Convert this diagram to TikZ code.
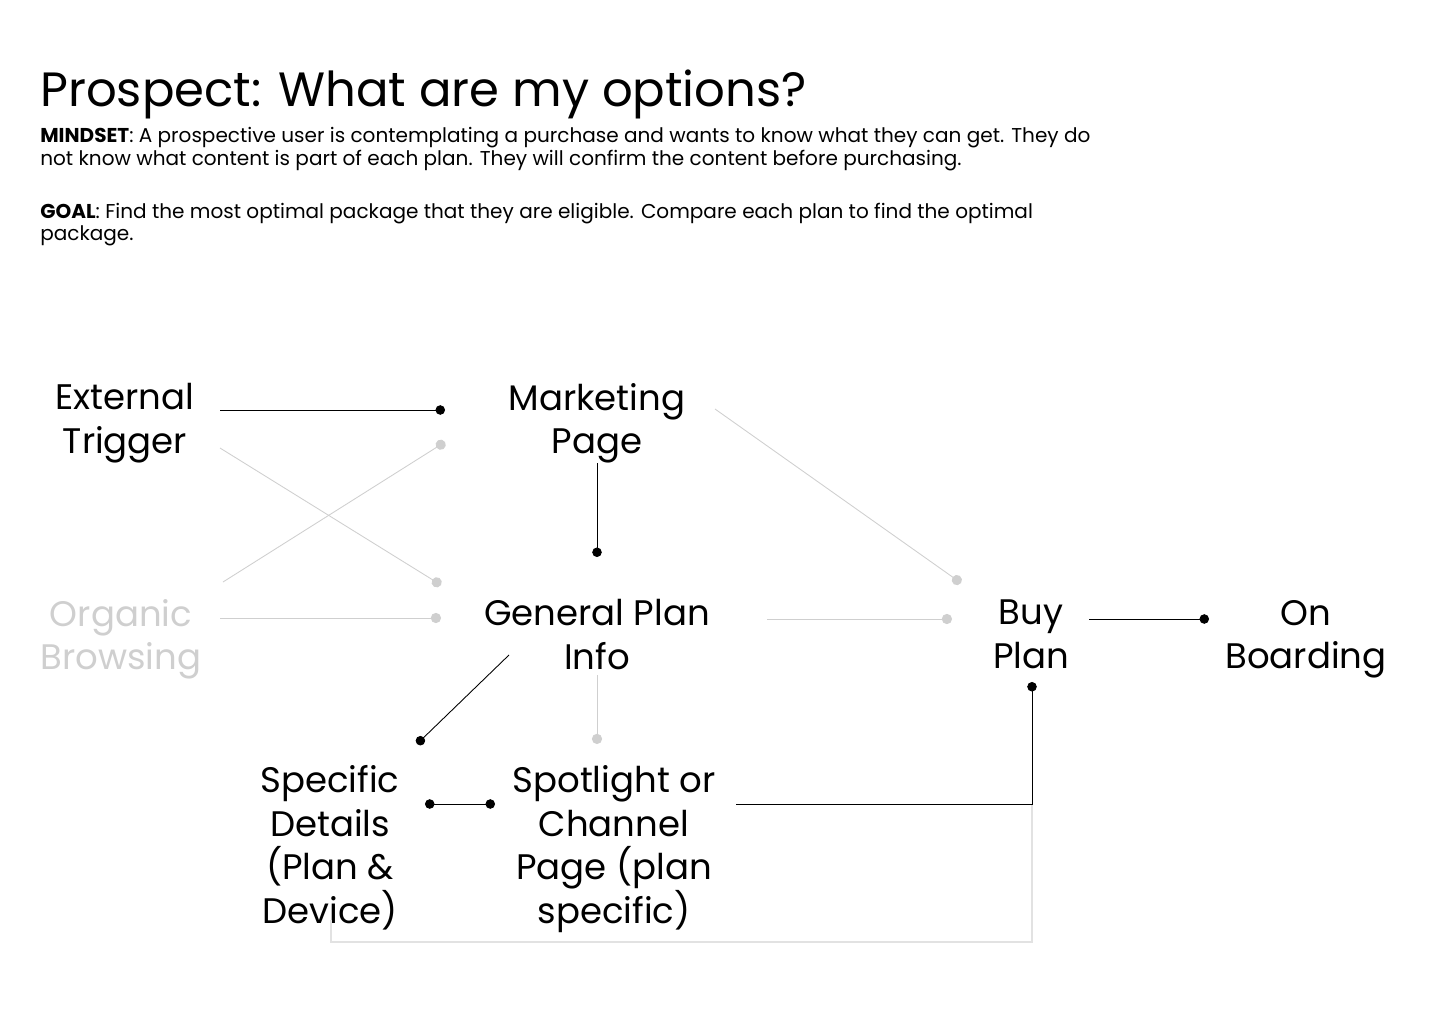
\documentclass[tikz,border=0pt]{standalone}
\usepackage{fontspec}
\setmainfont{Poppins}
\usetikzlibrary{arrows.meta}
\definecolor{faintgray}{HTML}{CFCFCF}
\definecolor{palegray}{HTML}{E2E2E2}
\tikzset{
  stage/.style={align=center,font=\fontsize{20.2}{24.9}\selectfont,inner sep=0pt,
    execute at begin node=\strut,execute at end node=\strut},
  blurb/.style={anchor=north west,align=left,inner sep=0pt,
    font=\fontsize{11.4}{11.34}\selectfont,execute at begin node=\strut},
  link/.style={line width=0.5pt,-{Circle[length=5.4pt]}},
  faintlink/.style={line width=0.5pt,draw=faintgray,-{Circle[length=5.8pt,color=faintgray]}},
  twolink/.style={line width=0.5pt,{Circle[length=5.4pt]}-{Circle[length=5.4pt]}},
  loopline/.style={line width=0.8pt,draw=palegray}
}
\begin{document}
\begin{tikzpicture}[x=0.02cm,y=-0.02cm]
    \useasboundingbox (0,0) rectangle (1440,1024);
    %% Heading
    \node[anchor=base west,inner sep=0pt,font=\fontsize{27.4}{32}\selectfont] (title) at (40,107) {Prospect: What are my options?};
    \node[blurb] (mindset) at (40,127)
      {\textbf{MINDSET}: A prospective user is contemplating a purchase and wants to know what they can get. They do\\
       not know what content is part of each plan. They will confirm the content before purchasing.};
    \node[blurb] (goal) at (40,203)
      {\textbf{GOAL}: Find the most optimal package that they are eligible. Compare each plan to find the optimal\\
       package.};
    %% Stages
    \node[stage] (ext) at (125,425) {External\\Trigger};
    \node[stage] (mkt) at (597,425) {Marketing\\Page};
    \node[stage,text=faintgray] (org) at (121,641) {Organic\\Browsing};
    \node[stage] (gen) at (597,641) {General Plan\\Info};
    \node[stage] (buy) at (1031,641) {Buy\\Plan};
    \node[stage] (onb) at (1306,641) {On\\Boarding};
    \node[stage] (spec) at (330,851) {Specific\\Details\\(Plan \&\\Device)};
    \node[stage] (spot) at (614,851) {Spotlight or\\Channel\\Page (plan\\specific)};
    %% Light paths
    \draw[faintlink] ([shift={(95,23)}]ext.center) -- ([shift={(-156,-56)}]gen.center);
    \draw[faintlink] ([shift={(102,-59)}]org.center) -- ([shift={(-152,17)}]mkt.center);
    \draw[faintlink] ([shift={(99,-23)}]org.center) -- ([shift={(-156,-23)}]gen.center);
    \draw[faintlink] ([shift={(118,-16)}]mkt.center) -- ([shift={(-70,-58)}]buy.center);
    \draw[faintlink] ([shift={(170,-22)}]gen.center) -- ([shift={(-79,-22)}]buy.center);
    \draw[faintlink] ([shift={(0,34)}]gen.center) -- ([shift={(-17,-107)}]spot.center);
    \draw[loopline] ([shift={(1,69)}]spec.center) |- ([shift={(1,301)}]buy.center) -- ([shift={(1,163)}]buy.center);
    %% Main paths
    \draw[link] ([shift={(95,-15)}]ext.center) -- ([shift={(-152,-15)}]mkt.center);
    \draw[link] ([shift={(0,38)}]mkt.center) -- ([shift={(0,-84)}]gen.center);
    \draw[link] ([shift={(58,-22)}]buy.center) -- ([shift={(-97,-22)}]onb.center);
    \draw[link] ([shift={(-88,14)}]gen.center) -- ([shift={(87,-107)}]spec.center);
    \draw[twolink] ([shift={(95,-47)}]spec.center) -- ([shift={(-119,-47)}]spot.center);
    \draw[link] ([shift={(122,-47)}]spot.center) -| ([shift={(1,41)}]buy.center);
\end{tikzpicture}
\end{document}
